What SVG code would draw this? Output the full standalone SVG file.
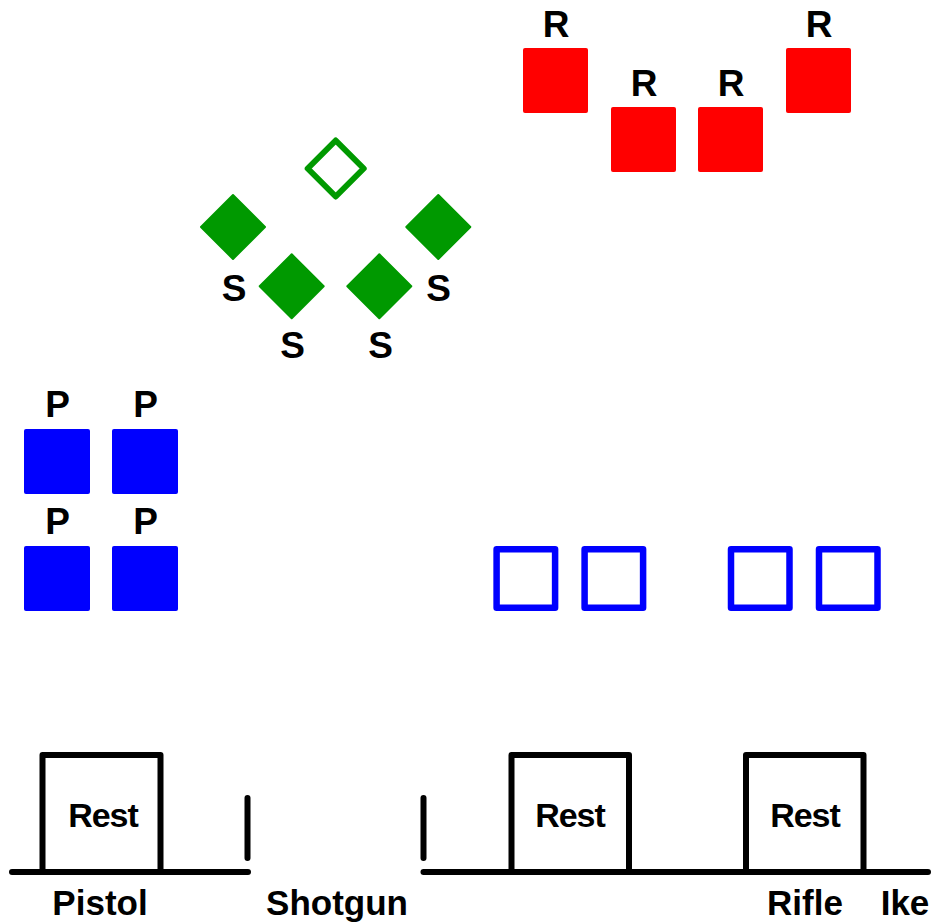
<svg xmlns="http://www.w3.org/2000/svg" width="933" height="922" viewBox="0 0 933 922">
<style>
text{font-family:"Liberation Sans",Arial,sans-serif;font-weight:bold;fill:#000;text-anchor:middle}
.lbl{font-size:37px}
.word{font-size:35px}
.rest{font-size:34px;letter-spacing:-1px}
.red{fill:#ff0000}
.bf{fill:#0000ff}
.bo{fill:none;stroke:#0000ff;stroke-width:6.5;stroke-linejoin:round}
.gf{fill:#009900;stroke:#009900;stroke-width:2;stroke-linejoin:round}
.go{fill:none;stroke:#009900;stroke-width:6;stroke-linejoin:round}
.ln{fill:none;stroke:#000;stroke-width:6;stroke-linecap:round;stroke-linejoin:round}
</style>
<rect width="933" height="922" fill="#fff"/>
<g id="rifle-targets">
<g id="r1"><rect class="red" x="523" y="48" width="65" height="65" rx="2"/><text class="lbl" x="556" y="37">R</text></g>
<g id="r2"><rect class="red" x="611" y="107" width="65" height="65" rx="2"/><text class="lbl" x="644" y="96">R</text></g>
<g id="r3"><rect class="red" x="698" y="107" width="65" height="65" rx="2"/><text class="lbl" x="731" y="96">R</text></g>
<g id="r4"><rect class="red" x="786" y="48" width="65" height="65" rx="2"/><text class="lbl" x="819" y="37">R</text></g>
</g>
<g id="shotgun-targets">
<g id="s0"><polygon class="go" points="335.7,140.5 363.7,168.5 335.7,196.5 307.7,168.5"/></g>
<g id="s1"><polygon class="gf" points="233,195 265,227 233,259 201,227"/><text class="lbl" x="234" y="301">S</text></g>
<g id="s2"><polygon class="gf" points="291.7,254.3 323.7,286.3 291.7,318.3 259.7,286.3"/><text class="lbl" x="292.5" y="358">S</text></g>
<g id="s3"><polygon class="gf" points="379.3,254.3 411.3,286.3 379.3,318.3 347.3,286.3"/><text class="lbl" x="380.5" y="358">S</text></g>
<g id="s4"><polygon class="gf" points="438.3,195 470.3,227 438.3,259 406.3,227"/><text class="lbl" x="438.5" y="301">S</text></g>
</g>
<g id="pistol-targets">
<g id="p1"><rect class="bf" x="24" y="429" width="66" height="65" rx="2"/><text class="lbl" x="57.5" y="417">P</text></g>
<g id="p2"><rect class="bf" x="112" y="429" width="66" height="65" rx="2"/><text class="lbl" x="145.5" y="417">P</text></g>
<g id="p3"><rect class="bf" x="24" y="546" width="66" height="65" rx="2"/><text class="lbl" x="57.5" y="534">P</text></g>
<g id="p4"><rect class="bf" x="112" y="546" width="66" height="65" rx="2"/><text class="lbl" x="145.5" y="534">P</text></g>
</g>
<g id="open-targets">
<rect class="bo" x="496.6" y="549.3" width="58.5" height="58.5"/>
<rect class="bo" x="584.6" y="549.3" width="58.5" height="58.5"/>
<rect class="bo" x="731" y="549.3" width="58.5" height="58.5"/>
<rect class="bo" x="819" y="549.3" width="58.5" height="58.5"/>
</g>
<g id="connectors">
<path class="ln" d="M12,872 H248"/>
<path class="ln" d="M42.5,872 V755 H160.5 V872"/>
<path class="ln" d="M247.5,798 V858"/>
<path class="ln" d="M423.5,798 V858"/>
<path class="ln" d="M423.5,872 H928"/>
<path class="ln" d="M511.5,872 V755 H629 V872"/>
<path class="ln" d="M746,872 V755 H863.5 V872"/>
</g>
<g id="labels">
<text class="rest" x="103" y="827">Rest</text>
<text class="rest" x="570" y="827">Rest</text>
<text class="rest" x="805" y="827">Rest</text>
<text class="word" x="100" y="915">Pistol</text>
<text class="word" x="337" y="915">Shotgun</text>
<text class="word" x="805" y="915">Rifle</text>
<text class="word" x="905" y="915">Ike</text>
</g>
</svg>
